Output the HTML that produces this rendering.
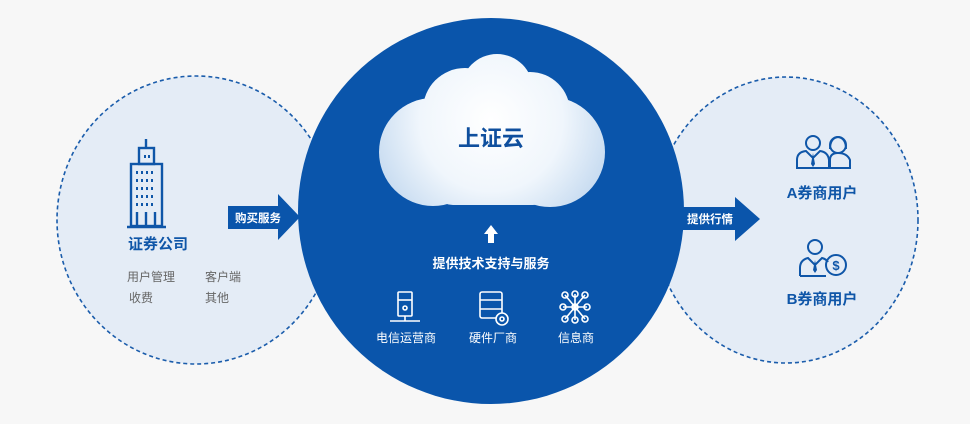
<!DOCTYPE html>
<html><head><meta charset="utf-8"><style>
html,body{margin:0;padding:0;background:#f7f7f7;}
svg{display:block;font-family:"Liberation Sans","Noto Sans CJK SC",sans-serif;}
</style></head><body>
<svg width="970" height="424" viewBox="0 0 970 424" xmlns="http://www.w3.org/2000/svg">
<defs>
<radialGradient id="cg" gradientUnits="userSpaceOnUse" cx="491" cy="120" r="130">
<stop offset="0" stop-color="#ffffff"/><stop offset="0.55" stop-color="#f0f6fc"/><stop offset="1" stop-color="#c2d8ef"/>
</radialGradient>
</defs>
<rect width="970" height="424" fill="#f7f7f7"/>
<ellipse cx="196" cy="220" rx="139" ry="144" fill="#e4ecf6" stroke="#1a5cab" stroke-width="1.6" stroke-dasharray="4,3"/>
<ellipse cx="786" cy="220" rx="132" ry="143" fill="#e4ecf6" stroke="#1a5cab" stroke-width="1.6" stroke-dasharray="4,3"/>
<circle cx="491" cy="211" r="193" fill="#0a55ab"/>
<!-- cloud -->
<g fill="url(#cg)">
<circle cx="433" cy="152" r="54"/>
<circle cx="550" cy="152" r="55"/>
<circle cx="465" cy="110" r="42"/>
<circle cx="497" cy="90" r="36"/>
<circle cx="530" cy="112" r="40"/>
<rect x="433" y="120" width="120" height="85" rx="20"/>
</g>
<text x="491" y="146" font-size="22" font-weight="bold" fill="#0f4f9e" text-anchor="middle">上证云</text>
<!-- up arrow -->
<path d="M491 225 L498 234 L494 234 L494 243 L488 243 L488 234 L484 234Z" fill="#fff"/>
<text x="491" y="268" font-size="13" font-weight="bold" fill="#fff" text-anchor="middle">提供技术支持与服务</text>
<!-- icons -->
<g stroke="#fff" stroke-width="1.6" fill="none">
<rect x="398" y="292" width="14" height="24" rx="1"/><line x1="398" y1="300" x2="412" y2="300"/><circle cx="405" cy="308" r="2"/>
<line x1="405" y1="316" x2="405" y2="321"/><line x1="390" y1="321" x2="420" y2="321"/>
<rect x="480" y="292" width="22" height="26" rx="2"/><line x1="480" y1="300" x2="502" y2="300"/><line x1="480" y1="309" x2="502" y2="309"/>
<circle cx="502" cy="319" r="6" fill="#0a55ab"/><circle cx="502" cy="319" r="2"/>
<circle cx="575" cy="307" r="3"/>
<circle cx="565" cy="295" r="3"/><circle cx="575" cy="294" r="3"/><circle cx="585" cy="295" r="3"/>
<circle cx="563" cy="307" r="3"/><circle cx="587" cy="307" r="3"/>
<circle cx="565" cy="319" r="3"/><circle cx="575" cy="320" r="3"/><circle cx="585" cy="319" r="3"/>
<path d="M575 307 L565 295 M575 307 L585 295 M575 307 L575 294 M575 307 L563 307 M575 307 L587 307 M575 307 L565 319 M575 307 L585 319 M575 307 L575 320"/>
</g>
<g font-size="12" fill="#fff" text-anchor="middle">
<text x="406" y="342">电信运营商</text><text x="493" y="342">硬件厂商</text><text x="576" y="342">信息商</text>
</g>
<!-- left side -->
<g stroke="#0f56a8" stroke-width="2.4" fill="none">
<line x1="146" y1="139" x2="146" y2="148"/>
<rect x="139" y="148" width="15" height="16"/>
<rect x="131" y="164" width="31" height="62"/>
<line x1="127" y1="227" x2="166" y2="227"/>
<path d="M137 227 V212 M146 227 V212 M155 227 V212"/>
</g>
<g fill="#0f56a8">
<rect x="144" y="155" width="2" height="3"/><rect x="148" y="155" width="2" height="3"/>
<g id="wr"><rect x="136" y="171" width="2" height="3"/><rect x="141" y="171" width="2" height="3"/><rect x="146" y="171" width="2" height="3"/><rect x="151" y="171" width="2" height="3"/></g>
<use href="#wr" y="8"/><use href="#wr" y="16"/><use href="#wr" y="24"/><use href="#wr" y="32"/>
</g>
<text x="158" y="249" font-size="15" font-weight="bold" fill="#0f56a8" text-anchor="middle">证券公司</text>
<g font-size="12" fill="#666">
<text x="127" y="281">用户管理</text><text x="205" y="281">客户端</text>
<text x="129" y="302">收费</text><text x="205" y="302">其他</text>
</g>
<path d="M228 206 H278 V194 L300 217 L278 240 V229 H228Z" fill="#0a55ab"/>
<text x="258" y="222" font-size="11.5" font-weight="bold" fill="#fff" text-anchor="middle">购买服务</text>
<path d="M683 207 H735 V197 L760 219 L735 241 V230 H683Z" fill="#0a55ab"/>
<text x="710" y="223" font-size="11.5" font-weight="bold" fill="#fff" text-anchor="middle">提供行情</text>
<!-- right icons -->
<g stroke="#0f56a8" stroke-width="2" fill="none">
<circle cx="813" cy="143" r="7"/>
<path d="M797 168 V160 Q797 152 806 151 L813 158 L820 151 Q828 152 829 160 V168Z"/>
<circle cx="838" cy="145" r="8"/>
<path d="M830 149 Q830 138 838 137 Q846 138 846 149"/>
<path d="M830 168 V160 Q830 153 838 153 Q847 153 850 160 V168Z"/>
<circle cx="815" cy="247" r="7"/>
<path d="M800 276 V268 Q800 260 808 258 L815 265 L822 258 Q826 259 828 262"/>
<path d="M800 276 H826"/>
<circle cx="836" cy="265" r="10"/>
</g>
<text x="836" y="270" font-size="13" font-weight="bold" fill="#0f56a8" text-anchor="middle">$</text>
<path d="M813 153 L811 164 L813 167 L815 164Z M815 260 L813 270 L815 273 L817 270Z" fill="#0f56a8"/>
<text x="822" y="198" font-size="15" font-weight="bold" fill="#0f56a8" text-anchor="middle">A券商用户</text>
<text x="822" y="304" font-size="15" font-weight="bold" fill="#0f56a8" text-anchor="middle">B券商用户</text>
</svg>
</body></html>
